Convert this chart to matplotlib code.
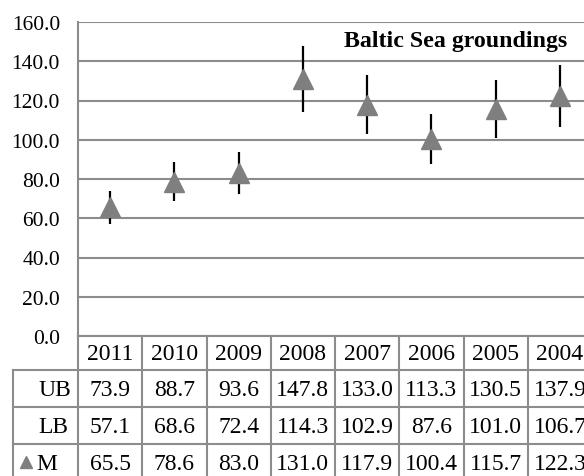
import matplotlib
matplotlib.use("Agg")
import matplotlib.pyplot as plt
import numpy as np
from matplotlib.lines import Line2D
from matplotlib.transforms import blended_transform_factory
from matplotlib.ticker import FormatStrFormatter

years = ["2011", "2010", "2009", "2008", "2007", "2006", "2005", "2004"]
ub = [73.9, 88.7, 93.6, 147.8, 133.0, 113.3, 130.5, 137.9]
lb = [57.1, 68.6, 72.4, 114.3, 102.9, 87.6, 101.0, 106.7]
m = [65.5, 78.6, 83.0, 131.0, 117.9, 100.4, 115.7, 122.3]
title = "Baltic Sea groundings"
row_labels = ["UB", "LB", "M"]

plt.rcParams['font.family'] = ['Liberation Serif', 'DejaVu Serif']

W, H = 584, 477
fig = plt.figure(figsize=(W / 100, H / 100), dpi=100)

def fx(px):
    return px / W

def fy(py):
    return 1 - py / H

ax_l, ax_r, ax_t, ax_b = 78, 592, 23, 337
ax = fig.add_axes([fx(ax_l), fy(ax_b), fx(ax_r - ax_l), (ax_b - ax_t) / H])

x = np.arange(len(years))
m_arr = np.array(m)
yerr = [m_arr - np.array(lb), np.array(ub) - m_arr]
ax.errorbar(x, m, yerr=yerr, fmt='none', ecolor='black', elinewidth=1.6, capsize=0, zorder=3)
ax.plot(x, m, '^', color='#7f7f7f', ms=14.5, mec='#7f7f7f', zorder=4, clip_on=False)

fs_tick = 15.5
fs = 17
ax.set_xlim(-0.5, len(years) - 0.5)
ax.set_ylim(0, 160)
ax.set_yticks(np.arange(0, 161, 20))
ax.yaxis.set_major_formatter(FormatStrFormatter('%.1f'))
ax.set_xticks([])
ax.tick_params(axis='y', length=0, pad=13, labelsize=fs_tick)
gridc = '#8c8c8c'
ax.yaxis.grid(True, color=gridc, lw=1.5, zorder=1)
ax.set_axisbelow(True)
for s in ['top', 'right', 'bottom']:
    ax.spines[s].set_visible(False)
ax.spines['left'].set_color(gridc)
ax.spines['left'].set_linewidth(1.5)

ax.text((567 - ax_l) / (ax_r - ax_l), (ax_b - 42) / (ax_b - ax_t), title,
        transform=ax.transAxes, ha='right', va='center', fontsize=17.2, fontweight='bold')

# table
trans = blended_transform_factory(ax.transData, fig.transFigure)
colw = (ax_r - ax_l) / len(years)
lab_left = -0.5 - (ax_l - 13) / colw
row_y = [337, 371, 408, 445, 482]
n = len(years)

def hline(x0, x1, py):
    fig.add_artist(Line2D([x0, x1], [fy(py), fy(py)], transform=trans, color=gridc, lw=1.5, clip_on=False))

def vline(xv, py0, py1):
    fig.add_artist(Line2D([xv, xv], [fy(py0), fy(py1)], transform=trans, color=gridc, lw=1.5, clip_on=False))

hline(-0.5, n - 0.5, row_y[0])
for py in row_y[1:]:
    hline(lab_left, n - 0.5, py)
for i in range(n + 1):
    vline(i - 0.5, row_y[0], row_y[-1])
vline(lab_left, row_y[1], row_y[-1])

for i, yr in enumerate(years):
    fig.text(i, fy((row_y[0] + row_y[1]) / 2 + 1), yr, transform=trans, ha='center', va='center', fontsize=fs)
rows = [ub, lb, m]
lab_right_px = [71, 68, 57]
for r, (lab, vals) in enumerate(zip(row_labels, rows)):
    yc = fy((row_y[r + 1] + row_y[r + 2]) / 2 + 1.5)
    lab_x = -0.5 - (ax_l - lab_right_px[r]) / colw
    fig.text(lab_x, yc, lab, transform=trans, ha='right', va='center', fontsize=fs)
    for i, v in enumerate(vals):
        fig.text(i, yc, f"{v:.1f}", transform=trans, ha='center', va='center', fontsize=fs)

# legend key triangle in M row
key_x = -0.5 - (ax_l - 26) / colw
fig.add_artist(Line2D([key_x], [fy(463)], transform=trans, marker='^', ms=9, color='#7f7f7f', ls='none', clip_on=False))

fig.savefig("out.png", dpi=100)
